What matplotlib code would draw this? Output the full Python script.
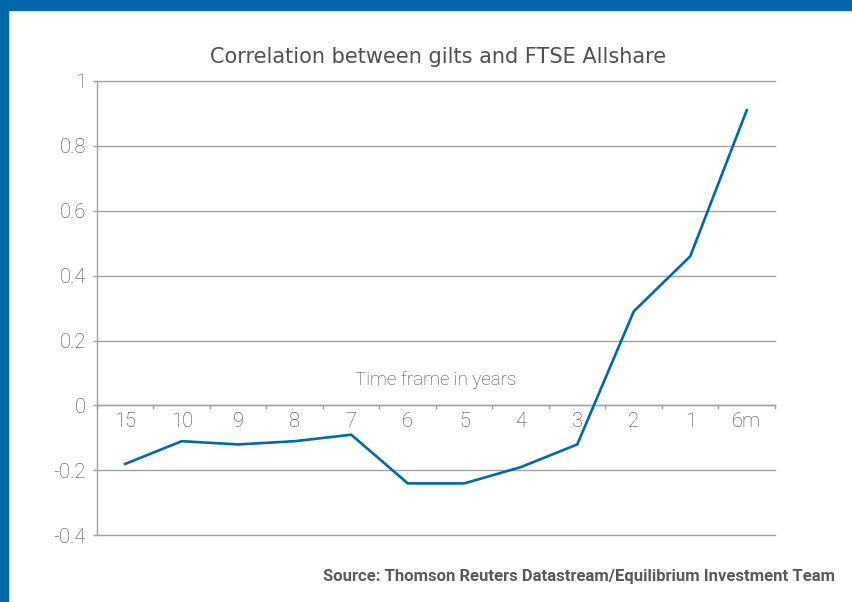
# gilts_ftse_corr.py
# 金边债券与富时全股指数相关性折线图

import matplotlib
matplotlib.use('Agg')
import matplotlib.pyplot as plt
from matplotlib.patches import Rectangle
import numpy as np

# 数据
periods = ['15', '10', '9', '8', '7', '6', '5', '4', '3', '2', '1', '6m']
correlation = [-0.18, -0.11, -0.12, -0.11, -0.09, -0.24, -0.24, -0.19, -0.12, 0.29, 0.46, 0.91]
y_ticks = [-0.4, -0.2, 0, 0.2, 0.4, 0.6, 0.8, 1]
y_tick_labels = ['-0.4', '-0.2', '0', '0.2', '0.4', '0.6', '0.8', '1']

BLUE = '#0068a9'
GRID = '#a3a3a3'
TEXT = '#5a5a5a'
LABEL = '#474747'
NARROW = ['Roboto', 'DejaVu Sans']

fig = plt.figure(figsize=(8.53, 6.02), dpi=100)
fig.patch.set_facecolor('white')

# 蓝色边框（顶部与左侧）
fig.patches.append(Rectangle((0, 1 - 10 / 602), 1, 10 / 602, transform=fig.transFigure,
                             color=BLUE, zorder=0))
fig.patches.append(Rectangle((0, 0), 8 / 853, 1, transform=fig.transFigure,
                             color=BLUE, zorder=0))

ax = fig.add_axes([97 / 853, 1 - 535.3 / 602, (775 - 97) / 853, (535.3 - 81) / 602])
x = np.arange(len(periods))
ax.plot(x, correlation, color=BLUE, linewidth=1.9, solid_joinstyle='miter', zorder=3)

ax.set_xlim(-0.5, len(periods) - 0.5)
ax.set_ylim(-0.4, 1)

# 网格线
for yv in y_ticks:
    ax.axhline(yv, color=GRID, linewidth=1.0, zorder=1, clip_on=False)

for side in ['top', 'right']:
    ax.spines[side].set_visible(False)
ax.spines['left'].set_color(GRID)
ax.spines['left'].set_linewidth(1.0)
ax.spines['bottom'].set_position(('data', 0))
ax.spines['bottom'].set_color(GRID)
ax.spines['bottom'].set_linewidth(1.0)

ax.set_yticks(y_ticks)
ax.set_yticklabels(y_tick_labels, family=NARROW, fontsize=14.5, fontweight='light', color=LABEL)
ax.tick_params(axis='y', length=3, width=1.0, color=GRID, pad=5)

ax.set_xticks(x)
ax.set_xticklabels(periods, family=NARROW, fontsize=14.5, fontweight='light', color=LABEL)
ax.set_xticks(np.arange(-0.5, len(periods)), minor=True)
ax.tick_params(axis='x', which='major', length=0, pad=5)
ax.tick_params(axis='x', which='minor', length=3, width=1.0, color=GRID, direction='out')

ax.text(5.5, 0.08, 'Time frame in years', ha='center', va='center',
        family=NARROW, fontsize=13.5, fontweight='light', color=LABEL)

fig.text(438 / 853, 1 - 57 / 602, 'Correlation between gilts and FTSE Allshare',
         ha='center', va='center', fontsize=15, color='#505050', family=['DejaVu Sans'])

fig.text(835 / 853, 1 - 576 / 602,
         'Source: Thomson Reuters Datastream/Equilibrium Investment Team',
         ha='right', va='center', fontsize=12, fontweight='bold', color=TEXT,
         family=NARROW)

plt.savefig('out.png', dpi=100)
plt.close()
